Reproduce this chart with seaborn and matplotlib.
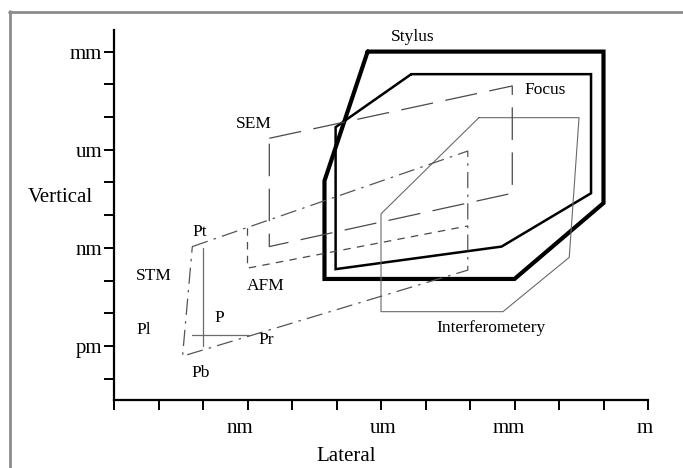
import matplotlib
matplotlib.use("Agg")
import matplotlib.pyplot as plt
import matplotlib.transforms as mtransforms
import seaborn as sns
import pandas as pd
from matplotlib.lines import Line2D

# ---- data (log10 of length in metres) ----
stylus_x = [-6.30, -1.00, -1.00, -3.00, -7.27, -7.27, -6.30]
stylus_y = [-3.00, -3.00, -7.63, -9.95, -9.95, -6.95, -3.00]

focus_x = [-5.32, -1.28, -1.28, -3.29, -7.02, -7.02, -5.32]
focus_y = [-3.69, -3.69, -7.33, -8.96, -9.65, -5.31, -3.69]

interf_x = [-3.80, -1.55, -1.77, -3.26, -6.00, -6.00, -3.80]
interf_y = [-5.02, -5.02, -9.29, -10.95, -10.95, -7.96, -5.02]

sem_x = [-8.51, -3.05, -3.05, -8.51, -8.51]
sem_y = [-5.65, -4.05, -7.33, -8.96, -5.65]

stm_x = [-10.24, -4.05, -4.05, -10.46, -10.24]
stm_y = [-8.96, -6.04, -9.68, -12.31, -8.96]

afm_x = [-9.00, -9.00, -4.05]
afm_y = [-8.40, -9.62, -8.33]

p_vert_x = [-10.00, -10.00]
p_vert_y = [-9.00, -12.00]
p_horz_x = [-10.24, -8.96]
p_horz_y = [-11.66, -11.66]

label_text = ["Stylus", "Focus", "SEM", "STM", "AFM", "Pt", "P", "Pl", "Pr", "Pb", "Interferometery"]
label_x = [-5.29, -2.32, -8.85, -11.10, -8.59, -10.07, -9.64, -11.32, -8.59, -10.05, -3.52]
label_y = [-2.54, -4.17, -5.21, -9.86, -10.17, -8.50, -11.15, -11.51, -11.82, -12.82, -11.46]

x_ticks = [-13 + i for i in range(1, 14)]   # -12 .. 0
x_tick_labels = {-9: "nm", -6: "um", -3: "mm", 0: "m"}
y_ticks = [-13 + i for i in range(0, 11)]   # -13 .. -3
y_tick_labels = {-12: "pm", -9: "nm", -6: "um", -3: "mm"}

# ---- style ----
sns.set_theme(style="white")
plt.rcParams["font.family"] = ["Liberation Serif", "DejaVu Serif"]

fig = plt.figure(figsize=(6.83, 4.68), dpi=100)
ax = fig.add_axes([114 / 683, 1 - 400 / 468, (648 - 114) / 683, (400 - 30) / 468])
ax.set_facecolor("white")


def draw(xs, ys, **kw):
    df = pd.DataFrame({"x": xs, "y": ys})
    sns.lineplot(data=df, x="x", y="y", sort=False, estimator=None, ax=ax,
                 legend=False, **kw)


draw(stylus_x, stylus_y, color="black", linewidth=3.0, solid_joinstyle="miter")
draw(focus_x, focus_y, color="black", linewidth=1.8, solid_joinstyle="miter")
draw(interf_x, interf_y, color="#6a6a6a", linewidth=0.8)
draw(sem_x, sem_y, color="#4a4a4a", linewidth=0.9, linestyle=(0, (26, 10)))
draw(stm_x, stm_y, color="#555555", linewidth=0.9, linestyle=(0, (13, 5, 2, 5)))
draw(afm_x, afm_y, color="#4a4a4a", linewidth=0.9, linestyle=(0, (6, 5)))
draw(p_vert_x, p_vert_y, color="#6a6a6a", linewidth=0.9)
draw(p_horz_x, p_horz_y, color="#6a6a6a", linewidth=0.9)

for t, x, y in zip(label_text, label_x, label_y):
    ax.text(x, y, t, ha="center", va="center", fontsize=12.5, color="black")

ax.set_xlim(-12, 0)
ax.set_ylim(-13.65, -2.34)

ax.set_xticks(x_ticks)
ax.set_xticklabels([x_tick_labels.get(v, "") for v in x_ticks])
ax.set_yticks(y_ticks)
ax.set_yticklabels([y_tick_labels.get(v, "") for v in y_ticks])

for side in ["top", "right"]:
    ax.spines[side].set_visible(False)
for side in ["left", "bottom"]:
    ax.spines[side].set_color("black")
    ax.spines[side].set_linewidth(1.6)

ax.tick_params(axis="both", direction="out", length=7.5, width=1.4, color="black",
               labelsize=15, labelcolor="black", left=True, bottom=True)
ax.tick_params(axis="x", pad=6)
ax.tick_params(axis="y", pad=1)

# small horizontal shifts of x tick labels as in the original scan (pixels)
x_label_shift = {-9: -8, -6: 2, -3: -6, 0: -3}
for val, lab in zip(x_ticks, ax.get_xticklabels()):
    dx = x_label_shift.get(val, 0)
    if dx:
        off = mtransforms.ScaledTranslation(dx / 100.0, 0, fig.dpi_scale_trans)
        lab.set_transform(lab.get_transform() + off)

ax.set_xlabel("Lateral", fontsize=15, color="black")
ax.set_ylabel("Vertical", fontsize=15, color="black", rotation=0, ha="center", va="center")
ax.xaxis.set_label_coords(0.4345, -0.127)
ax.yaxis.set_label_coords(-0.101, 0.546)

# gray scan frame
fig.add_artist(Line2D([9 / 683, 1.0], [1 - 11.5 / 468, 1 - 11.5 / 468], color="#8c8c8c",
                      linewidth=2.0, transform=fig.transFigure))
fig.add_artist(Line2D([9.5 / 683, 9.5 / 683], [0.0, 1 - 11 / 468], color="#8c8c8c",
                      linewidth=2.0, transform=fig.transFigure))

fig.savefig("out.png", dpi=100, facecolor="white")
